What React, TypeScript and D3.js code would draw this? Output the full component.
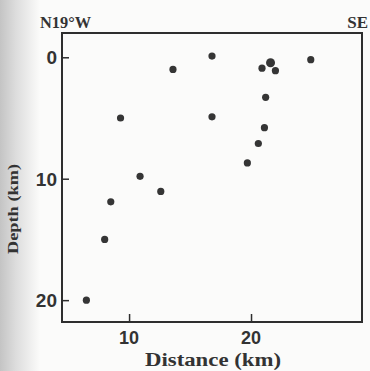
import React, { useRef, useEffect } from "react";
import * as d3 from "d3";

const distance = [16.8, 13.6, 20.9, 21.6, 22.0, 24.9, 21.2, 9.3, 16.8, 21.1, 20.6, 19.7, 10.9, 12.6, 8.5, 8.0, 6.5];
const depth = [-0.1, 1.0, 0.9, 0.45, 1.1, 0.2, 3.3, 5.0, 4.9, 5.8, 7.1, 8.7, 9.8, 11.05, 11.9, 15.0, 20.0];
const big = [false, false, false, true, false, false, false, false, false, false, false, false, false, false, false, false, false];

const xTicks = [10, 20];
const yTicks = [0, 10, 20];

const App = () => {
  const svgRef = useRef<SVGSVGElement>(null);

  useEffect(() => {
    const svg = d3.select(svgRef.current);
    svg.selectAll("*").remove();

    const width = 370;
    const height = 371;
    const margin = { top: 33, right: 8, bottom: 49, left: 62 };

    // scanned page: off-white with a grey shadow along the left edge
    const defs = svg.append("defs");
    const grad = defs.append("linearGradient").attr("id", "shade");
    grad.append("stop").attr("offset", "0%").attr("stop-color", "#c4c4c4");
    grad.append("stop").attr("offset", "40%").attr("stop-color", "#dddddd");
    grad.append("stop").attr("offset", "100%").attr("stop-color", "#fbfbfa");
    svg.append("rect").attr("width", width).attr("height", height).attr("fill", "#fbfbfa");
    svg.append("rect").attr("width", 40).attr("height", height).attr("fill", "url(#shade)");

    const x = d3.scaleLinear()
      .domain([4.5, 29.1])
      .range([margin.left, width - margin.right]);

    const y = d3.scaleLinear()
      .domain([-2, 21.8])
      .range([margin.top, height - margin.bottom]);

    const ink = "#2e2e2e";
    const sans = "'Liberation Sans', Arial, sans-serif";
    const serif = "'Liberation Serif', 'Times New Roman', serif";

    // frame
    svg.append("rect")
      .attr("x", x(4.5))
      .attr("y", y(-2))
      .attr("width", x(29.1) - x(4.5))
      .attr("height", y(21.8) - y(-2))
      .attr("fill", "none")
      .attr("stroke", ink)
      .attr("stroke-width", 2);

    // inward ticks
    const yAxis = svg.append("g")
      .attr("transform", `translate(${margin.left},0)`)
      .call(d3.axisRight(y).tickValues(yTicks).tickSize(7).tickFormat(() => ""));
    yAxis.select(".domain").remove();
    yAxis.selectAll("line").attr("stroke", ink).attr("stroke-width", 1.5);

    const xAxis = svg.append("g")
      .attr("transform", `translate(0,${height - margin.bottom})`)
      .call(d3.axisTop(x).tickValues(xTicks).tickSize(8).tickFormat(() => ""));
    xAxis.select(".domain").remove();
    xAxis.selectAll("line").attr("stroke", ink).attr("stroke-width", 1.5);

    // tick labels
    svg.selectAll(".ylab")
      .data(yTicks)
      .enter()
      .append("text")
      .attr("class", "ylab")
      .attr("x", margin.left - 5)
      .attr("y", d => y(d) + 7)
      .attr("text-anchor", "end")
      .attr("font-family", sans)
      .attr("font-size", 19)
      .attr("font-weight", "bold")
      .attr("fill", "#333")
      .text(d => d);

    svg.selectAll(".xlab")
      .data(xTicks)
      .enter()
      .append("text")
      .attr("class", "xlab")
      .attr("x", d => x(d))
      .attr("y", 344)
      .attr("text-anchor", "middle")
      .attr("font-family", sans)
      .attr("font-size", 18)
      .attr("font-weight", "bold")
      .attr("fill", "#333")
      .text(d => d);

    // hypocentres
    svg.selectAll(".dot")
      .data(distance)
      .enter()
      .append("circle")
      .attr("class", "dot")
      .attr("cx", d => x(d))
      .attr("cy", (d, i) => y(depth[i]))
      .attr("r", (d, i) => (big[i] ? 4.5 : 3.6))
      .attr("fill", "#353535");

    // labels
    svg.append("text")
      .attr("x", 40)
      .attr("y", 28)
      .attr("font-family", serif)
      .attr("font-size", 17)
      .attr("font-weight", "bold")
      .attr("fill", "#333")
      .attr("textLength", 51)
      .attr("lengthAdjust", "spacingAndGlyphs")
      .text("N19°W");

    svg.append("text")
      .attr("x", 368)
      .attr("y", 28)
      .attr("text-anchor", "end")
      .attr("font-family", serif)
      .attr("font-size", 17)
      .attr("font-weight", "bold")
      .attr("fill", "#333")
      .text("SE");

    svg.append("text")
      .attr("x", 213)
      .attr("y", 366)
      .attr("text-anchor", "middle")
      .attr("font-family", serif)
      .attr("font-size", 18)
      .attr("font-weight", "bold")
      .attr("fill", "#333")
      .attr("textLength", 136)
      .attr("lengthAdjust", "spacingAndGlyphs")
      .text("Distance (km)");

    svg.append("text")
      .attr("text-anchor", "middle")
      .attr("transform", `translate(18,209)rotate(-90)`)
      .attr("font-family", serif)
      .attr("font-size", 15)
      .attr("font-weight", "bold")
      .attr("fill", "#333")
      .attr("textLength", 90)
      .attr("lengthAdjust", "spacingAndGlyphs")
      .text("Depth (km)");
  }, []);

  return (
    <svg
      ref={svgRef}
      width={370}
      height={371}
      style={{ position: "absolute", left: 0, top: 0 }}
    ></svg>
  );
};

export default App;
